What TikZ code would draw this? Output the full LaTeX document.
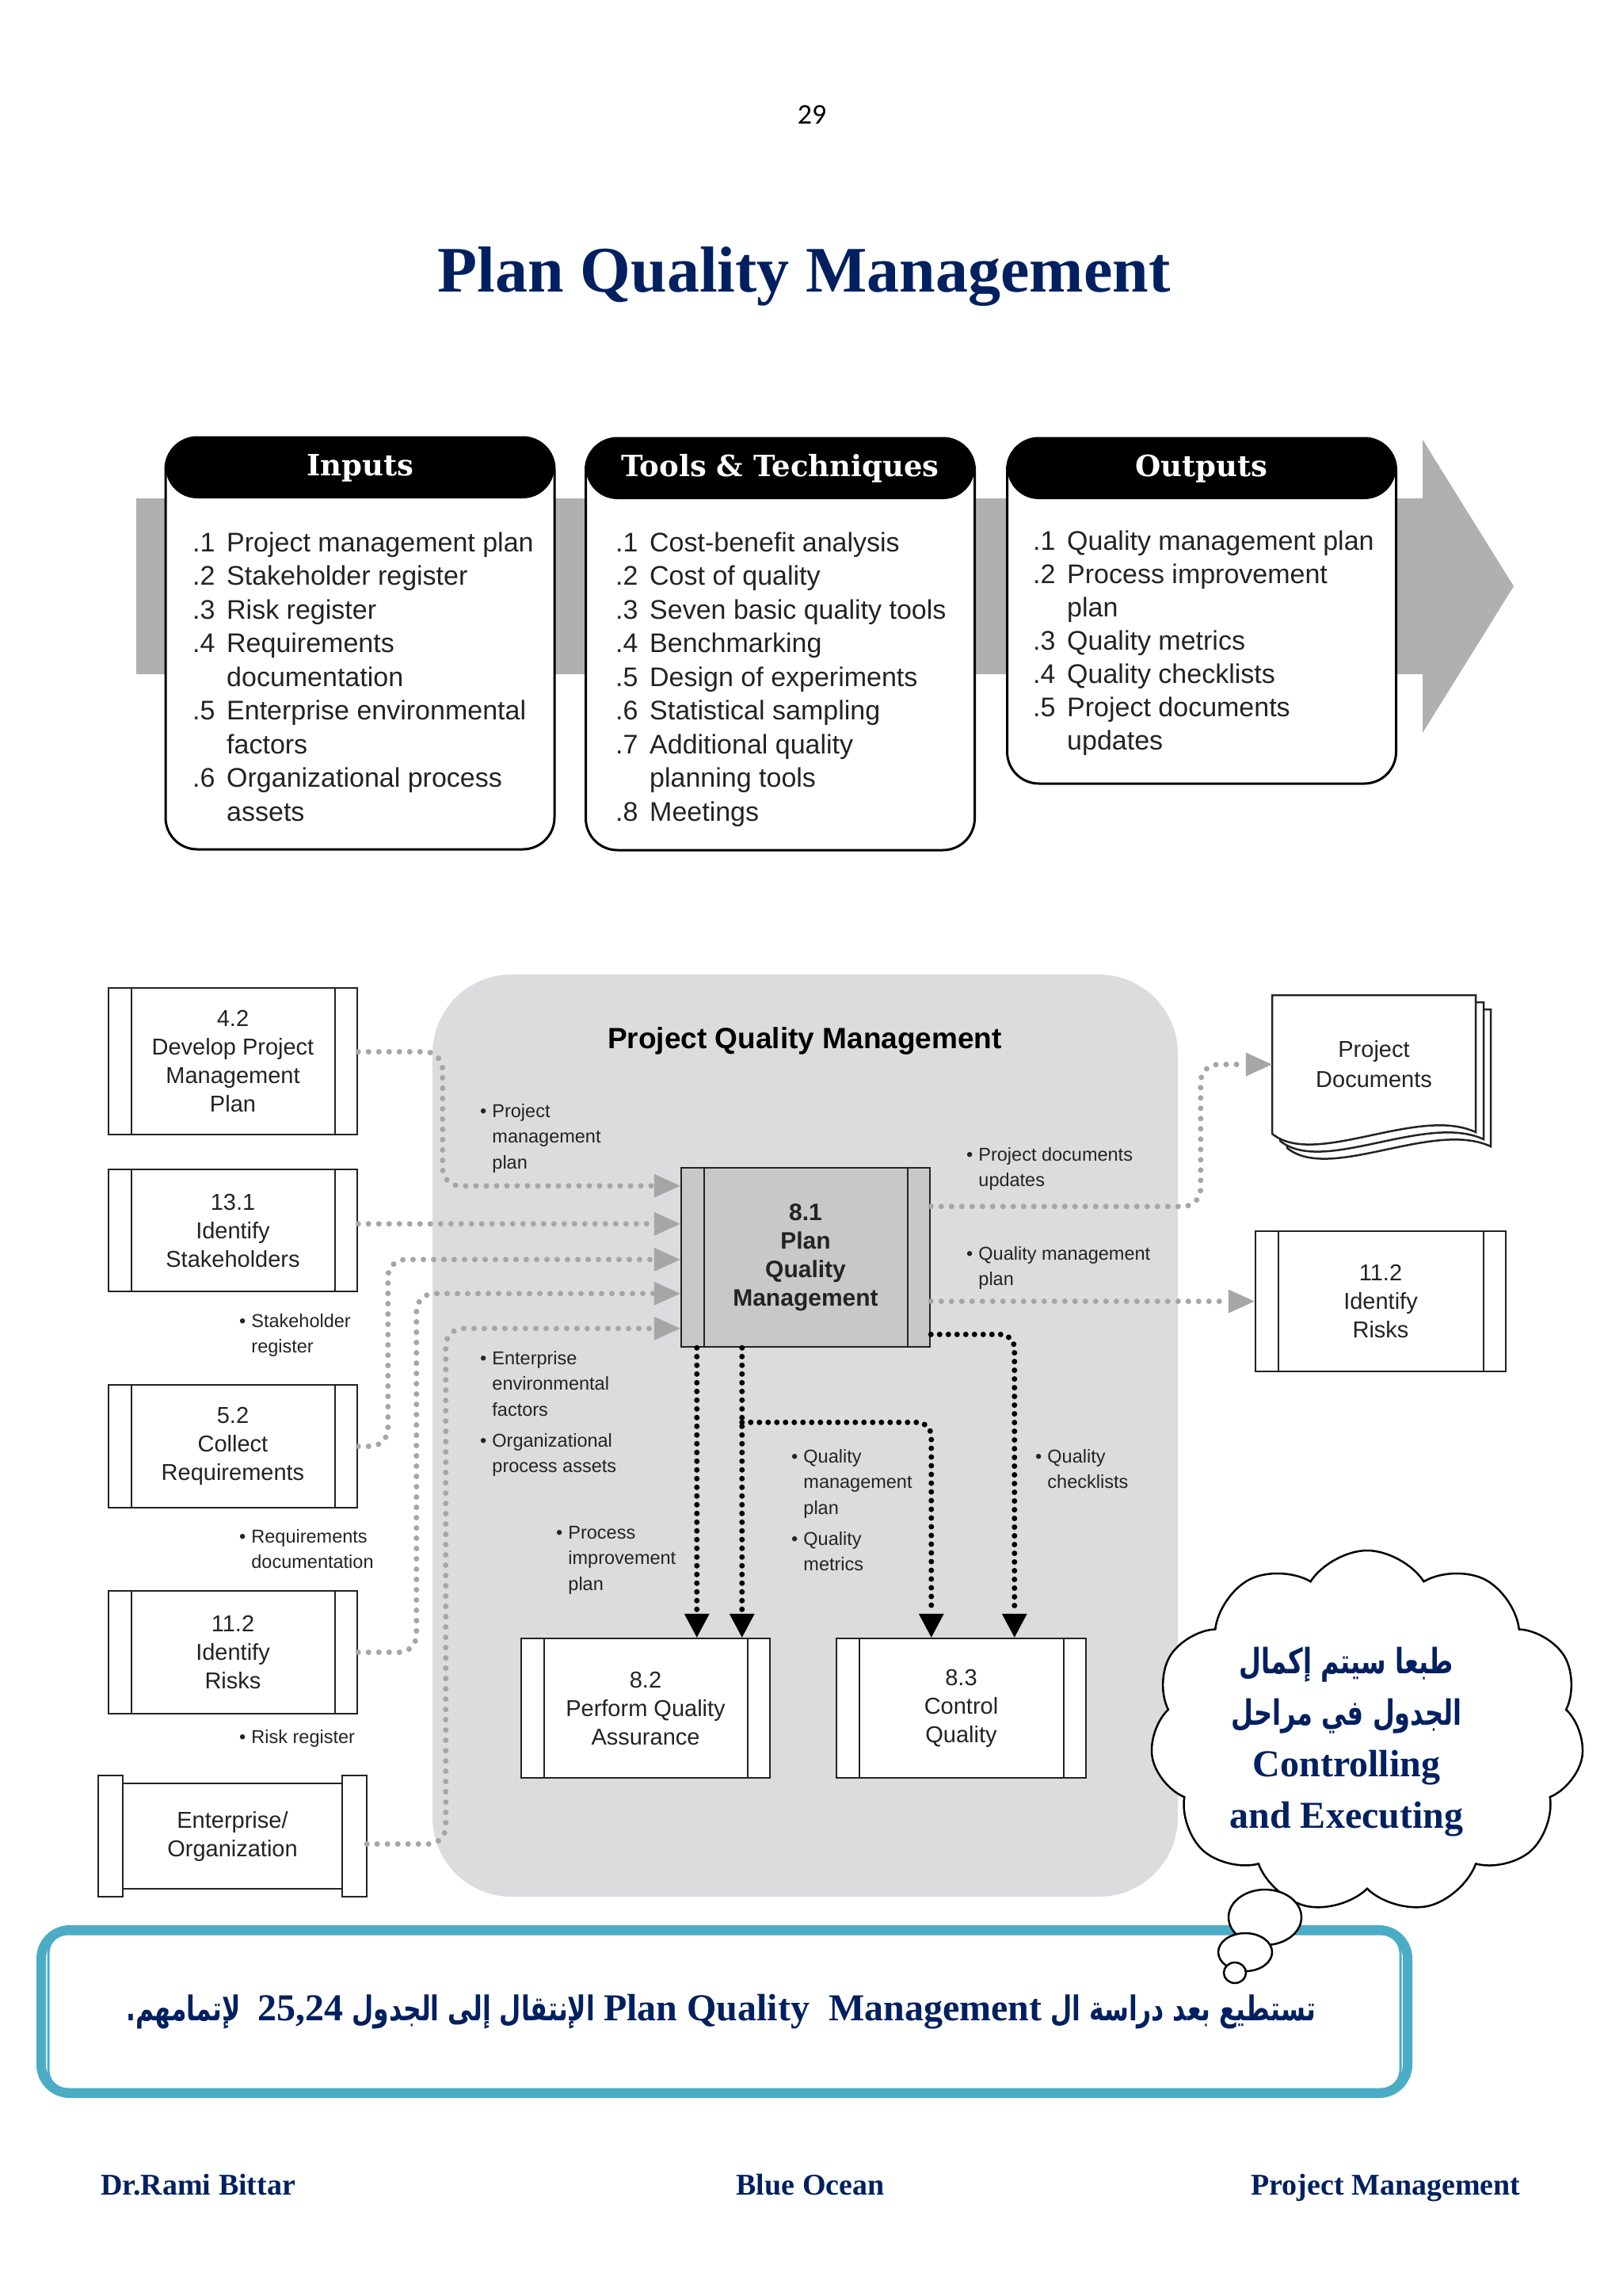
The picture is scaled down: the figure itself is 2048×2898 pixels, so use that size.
\documentclass[tikz,border=0pt]{standalone}
\usepackage{fontspec}
\setmainfont{Liberation Serif}
\setsansfont{Liberation Sans}
\newfontfamily\hdfont{DejaVu Serif}
\newfontfamily\arfont[Script=Arabic,FakeStretch=0.73]{DejaVu Sans}
\newfontfamily\pgfont{Carlito}
\TeXXeTstate=1
\usetikzlibrary{arrows.meta,shapes.symbols,calc}
\definecolor{navy}{RGB}{0,32,96}
\definecolor{bandgray}{RGB}{176,176,176}
\definecolor{regiongray}{RGB}{220,220,222}
\definecolor{boxgray}{RGB}{200,200,203}
\definecolor{dotgray}{RGB}{166,166,166}
\definecolor{frameteal}{RGB}{75,172,198}
\definecolor{txtdark}{RGB}{35,35,35}
\newcommand\setfs[2]{\fontsize{#1}{#2}\selectfont}
\newcommand\itm[2]{\makebox[43pt][l]{#1}#2}
\newcommand\docpage[2]{\filldraw[fill=white, draw=txtdark, line width=2.5, shift={(#1,#2)}] (1606,1256) -- (1863,1256) -- (1863,1429) .. controls (1790,1395) and (1660,1475) .. (1606,1431) -- cycle;}
\begin{document}
\begin{tikzpicture}[x=1pt,y=-1pt,
 iobox/.style={draw=black, line width=3, rounded corners=40, fill=white, inner sep=0, minimum width=491,
   path picture={\fill[black] (path picture bounding box.north west) rectangle ([yshift=-77]path picture bounding box.north east);}},
 iohead/.style={text=white, font=\hdfont\bfseries\setfs{37}{40}},
 iolist/.style={anchor=base west, inner sep=0, text=txtdark, font=\sffamily\setfs{34}{42.5}},
 proc/.style={draw=txtdark, line width=2.5, fill=white, inner sep=0, align=center, text=txtdark, font=\sffamily\setfs{29}{36}, minimum width=314,
   path picture={\draw[txtdark, line width=2.5] ([xshift=29]path picture bounding box.north west) -- ([xshift=29]path picture bounding box.south west);
                 \draw[txtdark, line width=#1] ([xshift=-28]path picture bounding box.north east) -- ([xshift=-28]path picture bounding box.south east);}},
 proc/.default=2.5,
 lbl/.style={anchor=base west, inner sep=0, text=txtdark, font=\sffamily\setfs{23.5}{32.5}},
 gdot/.style={draw=dotgray, line width=7, line cap=round, dash pattern=on 0pt off 13pt, rounded corners=22, -{Triangle[length=33pt,width=30pt,line width=0pt,color=dotgray]}},
 bdot/.style={draw=black, line width=7, line cap=round, dash pattern=on 0pt off 11pt, rounded corners=18, -{Triangle[length=30pt,width=32pt,line width=0pt,color=black]}},
 navytxt/.style={text=navy, font=\rmfamily\bfseries},
 boxline/.style={draw=txtdark, line width=2.5}
]
\fill[white] (0,0) rectangle (2048,2898);
\useasboundingbox (0,0) rectangle (2048,2898);

% page number and title
\node[anchor=base, font=\pgfont\setfs{36}{40}] (pgnum) at (1025,157) {29};
\node[anchor=base, navytxt, font=\rmfamily\bfseries\setfs{82}{90}] (title) at (1015,368) {Plan Quality Management};

% ===== top ITTO diagram =====
\fill[bandgray] (172,629) rectangle (1796,851);
\fill[bandgray] (1796,555) -- (1911,740) -- (1796,925) -- cycle;

\node[iobox, minimum height=520] (inbox) at (454.5,812) {};
\node[iobox, minimum height=520] (ttbox) at (985,813) {};
\node[iobox, minimum height=436] (outbox) at (1517,771) {};
\node[iohead] (inhd) at ([yshift=-40]inbox.north) {Inputs};
\node[iohead] (tthd) at ([yshift=-40]ttbox.north) {Tools \& Techniques};
\node[iohead] (outhd) at ([yshift=-40]outbox.north) {Outputs};

\node[iolist] (inlist) at (243,696) {\begin{tabular}[t]{@{}l@{}}
\itm{.1}{Project management plan}\\
\itm{.2}{Stakeholder register}\\
\itm{.3}{Risk register}\\
\itm{.4}{Requirements}\\
\itm{}{documentation}\\
\itm{.5}{Enterprise environmental}\\
\itm{}{factors}\\
\itm{.6}{Organizational process}\\
\itm{}{assets}
\end{tabular}};
\node[iolist] (ttlist) at (777,696) {\begin{tabular}[t]{@{}l@{}}
\itm{.1}{Cost-benefit analysis}\\
\itm{.2}{Cost of quality}\\
\itm{.3}{Seven basic quality tools}\\
\itm{.4}{Benchmarking}\\
\itm{.5}{Design of experiments}\\
\itm{.6}{Statistical sampling}\\
\itm{.7}{Additional quality}\\
\itm{}{planning tools}\\
\itm{.8}{Meetings}
\end{tabular}};
\node[iolist, font=\sffamily\setfs{34}{42}] (outlist) at (1304,694) {\begin{tabular}[t]{@{}l@{}}
\itm{.1}{Quality management plan}\\
\itm{.2}{Process improvement}\\
\itm{}{plan}\\
\itm{.3}{Quality metrics}\\
\itm{.4}{Quality checklists}\\
\itm{.5}{Project documents}\\
\itm{}{updates}
\end{tabular}};

% ===== bottom data flow diagram =====
\fill[regiongray, rounded corners=100] (546,1230) rectangle (1487,2394);
\node[anchor=base, font=\sffamily\bfseries\setfs{37}{44}, text=black] (pqmtitle) at (1016,1323) {Project Quality Management};

% left process boxes
\node[proc, minimum height=185] (b42) at (294,1339.5) {4.2\\Develop Project\\Management\\Plan};
\node[proc, minimum height=154] (b131) at (294,1553) {13.1\\Identify\\Stakeholders};
\node[proc, minimum height=155] (b52) at (294,1825.5) {5.2\\Collect\\Requirements};
\node[proc, minimum height=155] (b112L) at (294,2085.5) {11.2\\Identify\\Risks};

% enterprise / organization
\node[inner sep=0, minimum width=339, minimum height=153, align=center, text=txtdark, font=\sffamily\setfs{29}{36}] (ent) at (293.5,2317.5) {Enterprise/\\Organization};
\draw[boxline, fill=white] (ent.north west) rectangle ([xshift=31]ent.south west);
\draw[boxline, fill=white] ([xshift=-31]ent.north east) rectangle (ent.south east);
\draw[boxline] ([xshift=31,yshift=-10]ent.north west) -- ([xshift=-31,yshift=-10]ent.north east);
\draw[boxline] ([xshift=31,yshift=10]ent.south west) -- ([xshift=-31,yshift=10]ent.south east);

% central processes
\node[proc, fill=boxgray, minimum height=226, font=\sffamily\bfseries\setfs{30}{36}] (pqm) at (1017,1587) {8.1\\Plan\\Quality\\Management};
\node[proc=1.2, minimum height=176] (qa) at (815,2156) {8.2\\Perform Quality\\Assurance};
\node[proc=1.2, minimum height=176, minimum width=315] (qc) at (1213.5,2156) {8.3\\Control\\Quality};

% right outputs
\docpage{19}{18}
\docpage{10}{9}
\docpage{0}{0}
\node[inner sep=0, minimum width=257, minimum height=175, align=center, text=txtdark, font=\sffamily\setfs{29}{38}] (docs) at (1734.5,1343.5) {Project\\Documents};
\node[proc, minimum height=177, minimum width=316] (r112) at (1743,1642.5) {11.2\\Identify\\Risks};

% labels
\node[lbl] (lsr) at (302,1675) {\begin{tabular}[t]{@{}l@{\hspace{7pt}}l@{}}\textbullet & Stakeholder\\ & register\end{tabular}};
\node[lbl] (lrd) at (302,1947) {\begin{tabular}[t]{@{}l@{\hspace{7pt}}l@{}}\textbullet & Requirements\\ & documentation\end{tabular}};
\node[lbl] (lrr) at (302,2200) {\begin{tabular}[t]{@{}l@{\hspace{7pt}}l@{}}\textbullet & Risk register\end{tabular}};
\node[lbl] (lpmp) at (606,1410) {\begin{tabular}[t]{@{}l@{\hspace{7pt}}l@{}}\textbullet & Project\\ & management\\ & plan\end{tabular}};
\node[lbl] (leef) at (606,1722) {\begin{tabular}[t]{@{}l@{\hspace{7pt}}l@{}}\textbullet & Enterprise\\ & environmental\\ & factors\end{tabular}};
\node[lbl] (lopa) at (606,1826) {\begin{tabular}[t]{@{}l@{\hspace{7pt}}l@{}}\textbullet & Organizational\\ & process assets\end{tabular}};
\node[lbl] (lpip) at (702,1942) {\begin{tabular}[t]{@{}l@{\hspace{7pt}}l@{}}\textbullet & Process\\ & improvement\\ & plan\end{tabular}};
\node[lbl] (lqmp) at (999,1846) {\begin{tabular}[t]{@{}l@{\hspace{7pt}}l@{}}\textbullet & Quality\\ & management\\ & plan\end{tabular}};
\node[lbl] (lqm) at (999,1950) {\begin{tabular}[t]{@{}l@{\hspace{7pt}}l@{}}\textbullet & Quality\\ & metrics\end{tabular}};
\node[lbl] (lqc) at (1307,1846) {\begin{tabular}[t]{@{}l@{\hspace{7pt}}l@{}}\textbullet & Quality\\ & checklists\end{tabular}};
\node[lbl] (lpdu) at (1220,1465) {\begin{tabular}[t]{@{}l@{\hspace{7pt}}l@{}}\textbullet & Project documents\\ & updates\end{tabular}};
\node[lbl] (lqmp2) at (1220,1590) {\begin{tabular}[t]{@{}l@{\hspace{7pt}}l@{}}\textbullet & Quality management\\ & plan\end{tabular}};

% gray input connectors
\coordinate (t1) at ([yshift=-24]pqm.north west);
\coordinate (t2) at ([yshift=-72]pqm.north west);
\coordinate (t3) at ([yshift=-117]pqm.north west);
\coordinate (t4) at ([yshift=-160]pqm.north west);
\coordinate (t5) at ([yshift=-204]pqm.north west);
\draw[gdot] ([yshift=12]b42.east) -| ($(t1)+(-300,0)$) -- (t1);
\draw[gdot] (b131.east |- t2) -- (t2);
\draw[gdot] (b52.east) -| ($(t3)+(-369,0)$) -- (t3);
\draw[gdot] (b112L.east) -| ($(t4)+(-333,0)$) -- (t4);
\draw[gdot] ([yshift=-10]ent.east) -| ($(t5)+(-296,0)$) -- (t5);

% gray output connectors
\coordinate (s6) at ([yshift=-50]pqm.north east);
\draw[gdot] (s6) -| ($(docs.west)+(-90,0)$) -- (docs.west);
\draw[gdot] (pqm.east |- r112.west) -- (r112.west);

% black connectors
\coordinate (a1) at ([xshift=21]pqm.south west);
\coordinate (b1) at ([xshift=78]pqm.south west);
\coordinate (b2) at ([yshift=-94]b1);
\coordinate (c3) at ([xshift=121]qc.north west);
\coordinate (s8) at ([yshift=17]pqm.south east);
\coordinate (c4) at ([xshift=226]qc.north west);
\draw[bdot] (a1) -- (a1 |- qa.north);
\draw[bdot] (b1) -- (b1 |- qa.north);
\draw[bdot] (b2) -| (c3);
\draw[bdot] (s8) -| (c4);

% ===== bottom note frame =====
\node[draw=frameteal, line width=12, rounded corners=36, minimum width=1725, minimum height=206, inner sep=0] (frame) at (914.5,2539) {};
\draw[frameteal, line width=3, rounded corners=24] ([xshift=15,yshift=-11]frame.north west) rectangle ([xshift=-15,yshift=11]frame.south east);
\node[text=navy, font=\rmfamily\bfseries\setfs{48}{56}] (note) at (910,2539) {{\arfont\bfseries\setfs{43}{56}\beginR تستطيع بعد دراسة ال \beginL{\rmfamily\bfseries\setfs{48}{56}Plan Quality\ \ Management}\endL{} الإنتقال إلى الجدول \beginL{\rmfamily\bfseries\setfs{48}{56}25,24}\endL{}\ \ لإتمامهم.\endR}};

% ===== cloud callout =====
\node[cloud, cloud puffs=11, cloud puff arc=115, aspect=1.19, draw=black, line width=2.5, fill=white, minimum width=548, minimum height=458, inner sep=0] (cl) at (1726,2186) {};
\draw[line width=2.5, fill=white] (1597,2420) ellipse [x radius=46, y radius=35];
\draw[line width=2.5, fill=white] (1572,2464) ellipse [x radius=34, y radius=24];
\draw[line width=2.5, fill=white] (1559,2490) ellipse [x radius=14, y radius=13];
\node[align=center, text=navy, font=\rmfamily\bfseries\setfs{48}{65}] (cltxt) at (1700,2199) {{\arfont\bfseries\setfs{44}{65}\beginR طبعا سيتم إكمال\endR}\\{\arfont\bfseries\setfs{44}{65}\beginR الجدول في مراحل\endR}\\Controlling\\and Executing};

% ===== footer =====
\node[anchor=base west, navytxt, font=\rmfamily\bfseries\setfs{38}{44}] (f1) at (124,2770) {Dr.Rami Bittar};
\node[anchor=base, navytxt, font=\rmfamily\bfseries\setfs{38}{44}] (f2) at (1023,2770) {Blue Ocean};
\node[anchor=base east, navytxt, font=\rmfamily\bfseries\setfs{38}{44}] (f3) at (1923,2770) {Project Management};
\end{tikzpicture}
\end{document}
